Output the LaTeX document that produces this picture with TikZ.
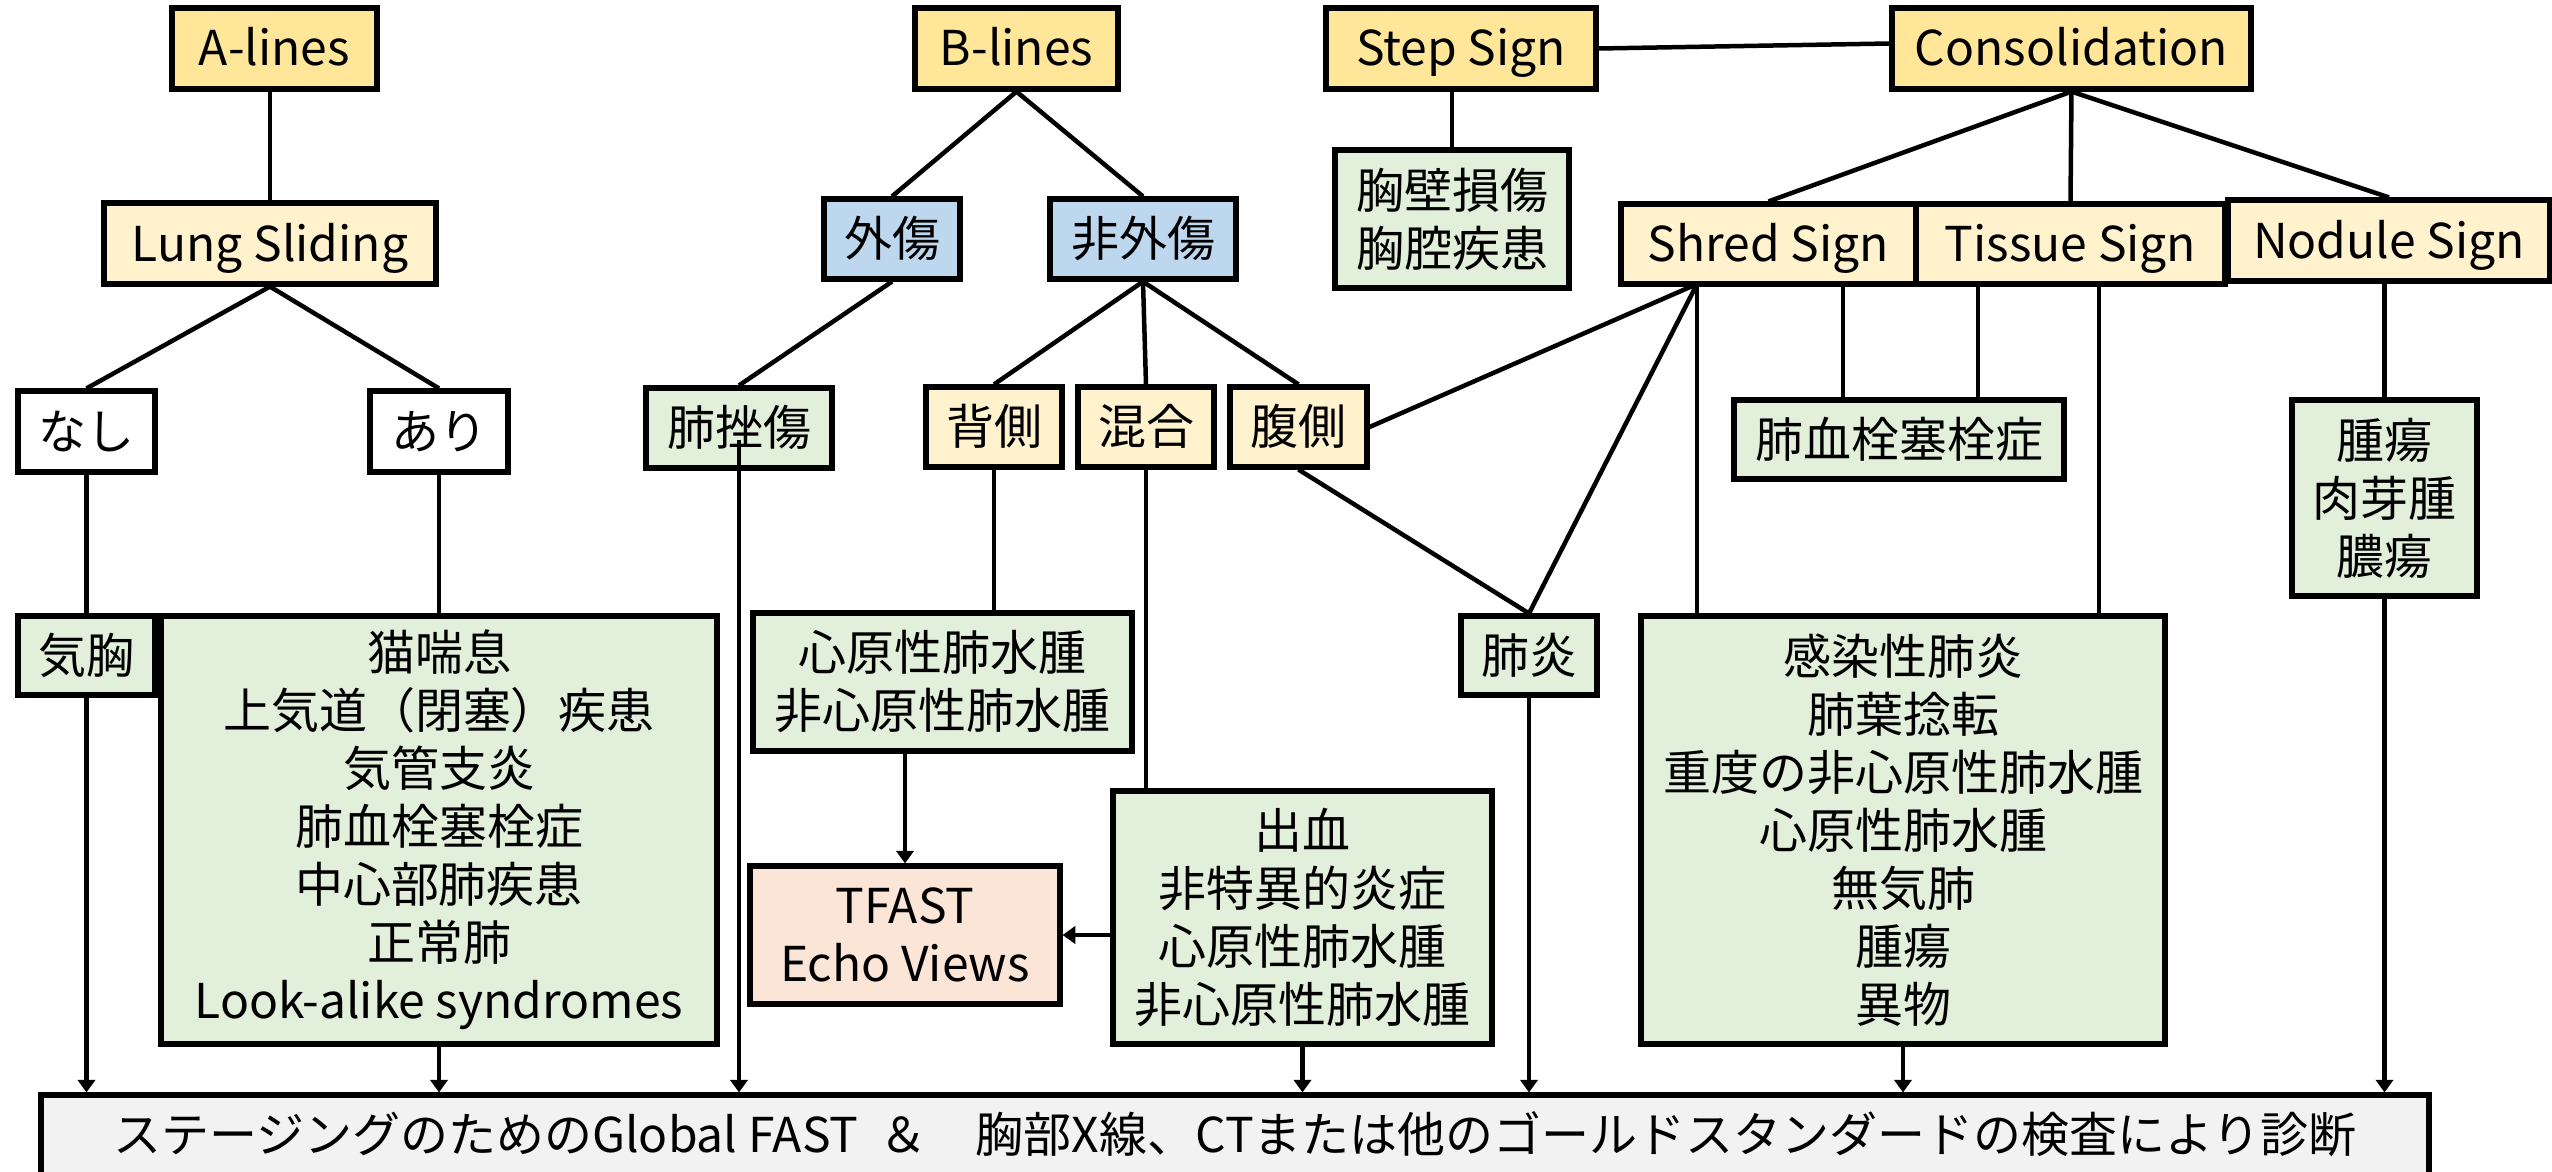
\documentclass[tikz,border=0pt]{standalone}
\usepackage{fontspec}
\setmainfont{Noto Sans CJK JP}
\usetikzlibrary{arrows.meta,calc}
\definecolor{ydark}{HTML}{FFE699}
\definecolor{ylight}{HTML}{FFF2CC}
\definecolor{bluebox}{HTML}{BDD7EE}
\definecolor{greenbox}{HTML}{E2EFDA}
\definecolor{salmonbox}{HTML}{FBE5D6}
\definecolor{graybox}{HTML}{F2F2F2}
\begin{document}
\begin{tikzpicture}[x=0.3pt,y=-0.3pt,
  box/.style={draw=black, line width=1.55pt, inner sep=0pt, align=center,
    font=\fontsize{14.4pt}{17.4pt}\selectfont},
  one/.style={text height=12pt, text depth=1.5pt},
  sz/.style 2 args={minimum width={#1*0.3pt}, minimum height={#2*0.3pt}},
  conn/.style={line width=1.35pt},
  arr/.style={conn, -{Triangle[width=5.2pt,length=3.8pt]}}]
\useasboundingbox (0,0) rectangle (2552,1172);

% ---- A-lines branch
\node[box, one, fill=ydark, sz={205}{81}] (alines) at (274.5,48.5) {A-lines};
\node[box, one, fill=ylight, sz={332}{81}] (lung) at (270,243.5) {Lung Sliding};
\node[box, one, fill=white, sz={137}{81}] (nashi) at (86.5,431.5) {なし};
\node[box, one, fill=white, sz={138}{81}] (ari) at (439,431.5) {あり};
\node[box, one, fill=greenbox, sz={137}{79}] (kikyo) at (86.5,655.5) {気胸};
\node[box, fill=greenbox, sz={556}{428}] (neko) at (439,830)
  {猫喘息\\上気道（閉塞）疾患\\気管支炎\\肺血栓塞栓症\\中心部肺疾患\\正常肺\\Look-alike syndromes};

% ---- B-lines branch
\node[box, one, fill=ydark, sz={203}{81}] (blines) at (1016.5,48.5) {B-lines};
\node[box, one, fill=bluebox, sz={136}{80}] (gaisho) at (892,239) {外傷};
\node[box, one, fill=bluebox, sz={186}{80}] (higaisho) at (1143,239) {非外傷};
\node[box, one, fill=greenbox, sz={186}{80}] (haizasho) at (739,428) {肺挫傷};
\node[box, one, fill=ylight, sz={136}{80}] (haisoku) at (994,427) {背側};
\node[box, one, fill=ylight, sz={136}{80}] (kongo) at (1146,427) {混合};
\node[box, one, fill=ylight, sz={137}{80}] (fukusoku) at (1298.5,427) {腹側};
\node[box, fill=greenbox, sz={379}{138}] (shingen) at (942.5,682) {心原性肺水腫\\非心原性肺水腫};
\node[box, fill=salmonbox, sz={310}{138}] (tfast) at (905,935) {TFAST\\Echo Views};
\node[box, fill=greenbox, sz={379}{253}] (shukketsu) at (1302.5,917.5)
  {出血\\非特異的炎症\\心原性肺水腫\\非心原性肺水腫};
\node[box, one, fill=greenbox, sz={136}{79}] (haien) at (1529,655.5) {肺炎};

% ---- Step sign / Consolidation
\node[box, one, fill=ydark, sz={270}{81}] (step) at (1461,48.5) {Step Sign};
\node[box, fill=greenbox, sz={234}{138}] (kyoheki) at (1452,219) {胸壁損傷\\胸腔疾患};
\node[box, one, fill=ydark, sz={359}{81}] (cons) at (2071.5,48.5) {Consolidation};
\node[box, one, fill=ylight, sz={295}{80}] (shred) at (1768.5,244) {Shred Sign};
\node[box, one, fill=ylight, sz={309}{80}] (tissue) at (2070.5,244) {Tissue Sign};
\node[box, one, fill=ylight, sz={322}{81}] (nodule) at (2389,240.5) {Nodule Sign};
\node[box, one, fill=greenbox, sz={330}{79}] (haikessen) at (1899,439.5) {肺血栓塞栓症};
\node[box, fill=greenbox, sz={185}{196}] (shuyo) at (2384.5,498) {腫瘍\\肉芽腫\\膿瘍};
\node[box, fill=greenbox, sz={524}{428}] (kansen) at (1903,830)
  {感染性肺炎\\肺葉捻転\\重度の非心原性肺水腫\\心原性肺水腫\\無気肺\\腫瘍\\異物};

% ---- bottom box
\node[box, one, fill=graybox, sz={2388}{80}] (bottom) at (1235,1135)
  {ステージングのためのGlobal FAST\ \ ＆　胸部X線、CTまたは他のゴールドスタンダードの検査により診断};

\coordinate (shredfoot) at (1697,284);

% ---- connectors
\draw[conn] (lung.north |- alines.south) -- (lung.north);
\draw[conn] (lung.south) -- (nashi.north);
\draw[conn] (lung.south) -- (ari.north);
\draw[conn] (nashi.south) -- (kikyo.north);
\draw[conn] (ari.south) -- (neko.north);
\draw[arr] (kikyo.south) -- (kikyo.south |- bottom.north);
\draw[arr] (neko.south) -- (neko.south |- bottom.north);

\draw[conn] (blines.south) -- (gaisho.north);
\draw[conn] (blines.south) -- (higaisho.north);
\draw[conn] (gaisho.south) -- (haizasho.north);
\draw[arr] ([yshift=-3.6pt]haizasho.center) -- (haizasho.center |- bottom.north);
\draw[conn] (higaisho.south) -- (haisoku.north);
\draw[conn] (higaisho.south) -- (kongo.north);
\draw[conn] (higaisho.south) -- (fukusoku.north);
\draw[conn] (haisoku.south) -- (haisoku.south |- shingen.north);
\draw[conn] (kongo.south) -- (kongo.south |- shukketsu.north);
\draw[arr] (tfast.north |- shingen.south) -- (tfast.north);
\draw[arr] (shukketsu.west |- tfast.east) -- (tfast.east);
\draw[arr] (shukketsu.south) -- (shukketsu.south |- bottom.north);
\draw[conn] (fukusoku.south) -- (haien.north);
\draw[conn] (fukusoku.east) -- (shredfoot);
\draw[conn] (shredfoot) -- (haien.north);
\draw[conn] (shredfoot) -- (shredfoot |- kansen.north);
\draw[arr] (haien.south) -- (haien.south |- bottom.north);

\draw[conn] (step.east) -- ([yshift=1.5pt]cons.west);
\draw[conn] (kyoheki.north |- step.south) -- (kyoheki.north);
\draw[conn] (cons.south) -- (shred.north);
\draw[conn] (cons.south) -- (tissue.north);
\draw[conn] (cons.south) -- (nodule.north);
\draw[conn] ($(shred.south)+(74.5,0)$) -- ($(shred.south |- haikessen.north)+(74.5,0)$);
\draw[conn] ($(tissue.south)+(-92.5,0)$) -- ($(tissue.south |- haikessen.north)+(-92.5,0)$);
\draw[conn] ($(tissue.south)+(28.5,0)$) -- ($(tissue.south |- kansen.north)+(28.5,0)$);
\draw[conn] (shuyo.north |- nodule.south) -- (shuyo.north);
\draw[arr] (shuyo.south) -- (shuyo.south |- bottom.north);
\draw[arr] (kansen.south) -- (kansen.south |- bottom.north);
\end{tikzpicture}
\end{document}
